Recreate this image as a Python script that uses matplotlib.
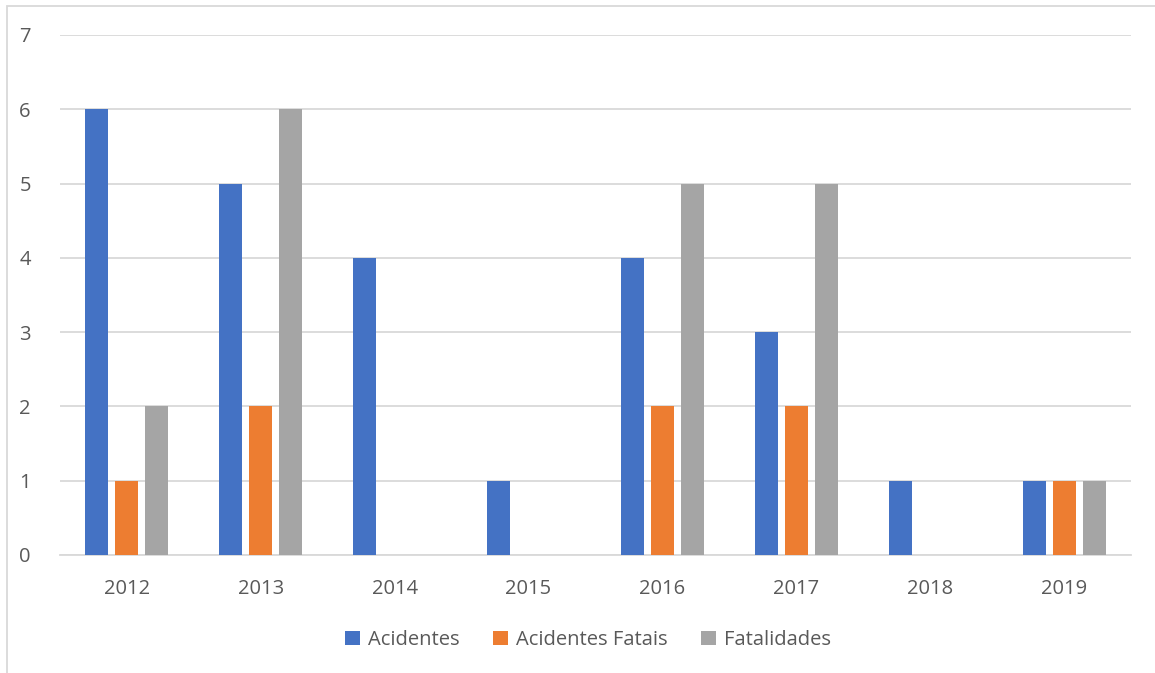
import matplotlib
matplotlib.use("Agg")
import matplotlib.pyplot as plt
import numpy as np
from matplotlib.patches import Rectangle

years = ["2012", "2013", "2014", "2015", "2016", "2017", "2018", "2019"]
acidentes = [6, 5, 4, 1, 4, 3, 1, 1]
acidentes_fatais = [1, 2, 0, 0, 2, 2, 0, 1]
fatalidades = [2, 6, 0, 0, 5, 5, 0, 1]

series = [
    ("Acidentes", acidentes, "#4472C4"),
    ("Acidentes Fatais", acidentes_fatais, "#ED7D31"),
    ("Fatalidades", fatalidades, "#A5A5A5"),
]

plt.rcParams["font.family"] = ["Open Sans", "DejaVu Sans"]

W, H = 1155, 673
fig = plt.figure(figsize=(W / 100, H / 100), dpi=100, facecolor="white")
ax = fig.add_axes([60 / W, 1 - 555 / H, (1131 - 60) / W, (555 - 35) / H])

x = np.arange(len(years))
bw = 0.172
step = 0.224
for i, (name, vals, col) in enumerate(series):
    ax.bar(x + (i - 1) * step, vals, width=bw, color=col, label=name, zorder=3)

ax.set_xlim(-0.5, len(years) - 0.5)
ax.set_ylim(0, 7)
ax.set_yticks(range(0, 8))
ax.set_xticks(x, years)
ax.grid(axis="y", color="#d9d9d9", linewidth=1.3, zorder=0)
for s in ["top", "right", "left"]:
    ax.spines[s].set_visible(False)
ax.spines["bottom"].set_color("#d9d9d9")
ax.spines["bottom"].set_linewidth(1.3)
ax.tick_params(axis="both", length=0, labelsize=14.5, colors="#595959")
ax.tick_params(axis="y", pad=21)
ax.tick_params(axis="x", pad=17)

leg = fig.legend(loc="center", bbox_to_anchor=(588 / W, 1 - 640 / H), ncol=3,
                 frameon=False, fontsize=14.5, handlelength=0.7, handleheight=0.7,
                 handletextpad=0.4, columnspacing=1.7)
for t in leg.get_texts():
    t.set_color("#595959")

# chart-area border (only top and left visible in the crop)
fig.patches.append(Rectangle((7 / W, -0.1), 1.2, 1 - 6 / H + 0.1, transform=fig.transFigure,
                             fill=False, edgecolor="#d9d9d9", linewidth=1.3))

fig.savefig("out.png", dpi=100, facecolor="white")
